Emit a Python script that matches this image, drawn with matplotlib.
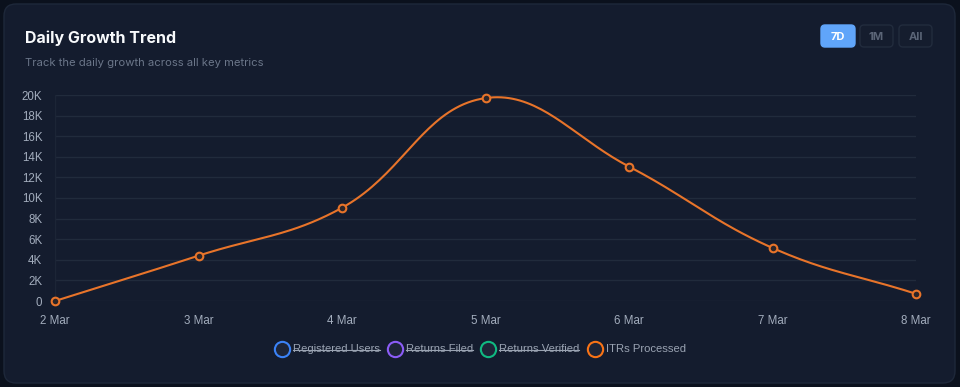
import matplotlib
matplotlib.use('Agg')
import matplotlib.pyplot as plt
from matplotlib.patches import FancyBboxPatch
from matplotlib.lines import Line2D
import numpy as np

# data
dates = ['2 Mar', '3 Mar', '4 Mar', '5 Mar', '6 Mar', '7 Mar', '8 Mar']
itrs_processed = [0, 4400, 9050, 19700, 13050, 5150, 700]
y_ticks = [0, 2000, 4000, 6000, 8000, 10000, 12000, 14000, 16000, 18000, 20000]
y_tick_labels = ['0', '2K', '4K', '6K', '8K', '10K', '12K', '14K', '16K', '18K', '20K']
legend_names = ['Registered Users', 'Returns Filed', 'Returns Verified', 'ITRs Processed']
legend_colors = ['#3b82f6', '#8b5cf6', '#10b981', '#f97316']
legend_hidden = [True, True, True, False]
buttons = ['7D', '1M', 'All']

plt.rcParams['font.family'] = ['Inter', 'DejaVu Sans']
small_font = ['Liberation Sans', 'DejaVu Sans']

W, H = 960, 387
fig = plt.figure(figsize=(W / 100, H / 100), dpi=100)
fig.patch.set_facecolor('#0b111d')

# background axes in pixel units
bg = fig.add_axes([0, 0, 1, 1])
bg.set_xlim(0, W)
bg.set_ylim(H, 0)
bg.axis('off')
bg.add_patch(FancyBboxPatch((4, 4), 951, 379, boxstyle='round,pad=0,rounding_size=12',
                            facecolor='#141c2e', edgecolor='#1e283a', linewidth=1))

bg.text(25, 38, 'Daily Growth Trend', color='#f8fafc', fontsize=11.5,
        fontweight='bold', va='center', ha='left')
bg.text(25, 63, 'Track the daily growth across all key metrics', color='#6b7689',
        fontsize=8.1, va='center', ha='left')

# range buttons
btn_x = [821, 860, 899]
btn_w = [34, 33, 33]
for i, (lab, bx, bw) in enumerate(zip(buttons, btn_x, btn_w)):
    active = i == 0
    bg.add_patch(FancyBboxPatch((bx, 25), bw, 22, boxstyle='round,pad=0,rounding_size=4',
                                facecolor='#60a5fa' if active else '#151d2e',
                                edgecolor='#60a5fa' if active else '#222c3d', linewidth=1))
    bg.text(bx + bw / 2, 36.5, lab, color='#ffffff' if active else '#5b6577',
            fontsize=8, fontweight='bold', ha='center', va='center')

# main chart
ax = fig.add_axes([55 / W, 1 - 301 / H, 861 / W, 206 / H])
ax.set_facecolor('none')
x = np.arange(len(dates))
ax.set_xlim(0, len(dates) - 1)
ax.set_ylim(0, 20000)
ax.set_yticks(y_ticks)
ax.set_yticklabels(y_tick_labels, family=small_font)
ax.set_xticks(x)
ax.set_xticklabels(dates, family=small_font)
ax.tick_params(colors='#a3adbd', labelsize=8.3, length=0)
ax.tick_params(axis='y', pad=9)
ax.tick_params(axis='x', pad=10)
ax.grid(True, axis='y', color='#212b3c', linewidth=1)
ax.axvline(0, color='#1c2536', linewidth=1)
for s in ax.spines.values():
    s.set_visible(False)

# smooth curve (bezier with tension 0.4, computed in pixel space)
fig.canvas.draw()
pts = ax.transData.transform(np.column_stack([x, itrs_processed]))
tension = 0.4
n = len(pts)
cp_prev = np.zeros_like(pts)
cp_next = np.zeros_like(pts)
for i in range(n):
    p0 = pts[max(i - 1, 0)]
    p1 = pts[i]
    p2 = pts[min(i + 1, n - 1)]
    d01 = np.hypot(*(p1 - p0))
    d12 = np.hypot(*(p2 - p1))
    tot = d01 + d12
    s01 = d01 / tot if tot else 0
    s12 = d12 / tot if tot else 0
    cp_prev[i] = p1 - tension * s01 * (p2 - p0)
    cp_next[i] = p1 + tension * s12 * (p2 - p0)
curve = []
t = np.linspace(0, 1, 40)[:, None]
for i in range(n - 1):
    a, b, c, d = pts[i], cp_next[i], cp_prev[i + 1], pts[i + 1]
    seg = (1 - t) ** 3 * a + 3 * (1 - t) ** 2 * t * b + 3 * (1 - t) * t ** 2 * c + t ** 3 * d
    curve.append(seg)
curve = ax.transData.inverted().transform(np.vstack(curve))
ax.plot(curve[:, 0], curve[:, 1], color='#e8742a', linewidth=1.5, clip_on=False)
ax.plot(x, itrs_processed, linestyle='none', marker='o', markersize=5.5,
        markerfacecolor='#2c2528', markeredgecolor='#e8742a', markeredgewidth=1.5,
        clip_on=False, zorder=5)

# legend
leg_x = [282, 395, 488, 595]
renderer = fig.canvas.get_renderer()
for name, col, hidden, lx in zip(legend_names, legend_colors, legend_hidden, leg_x):
    bg.add_line(Line2D([lx], [349], marker='o', markersize=11, markerfacecolor='#1e2537',
                       markeredgecolor=col, markeredgewidth=1.5, linestyle='none'))
    txt = bg.text(lx + 11, 349.5, name, color='#9aa3b2', fontsize=8.1, ha='left',
                  va='center', family=small_font)
    if hidden:
        bb = txt.get_window_extent(renderer)
        bg.plot([lx + 11, lx + 11 + bb.width], [349.5, 349.5], color='#9aa3b2', linewidth=0.8)

fig.savefig('out.png', dpi=100, facecolor=fig.get_facecolor())
